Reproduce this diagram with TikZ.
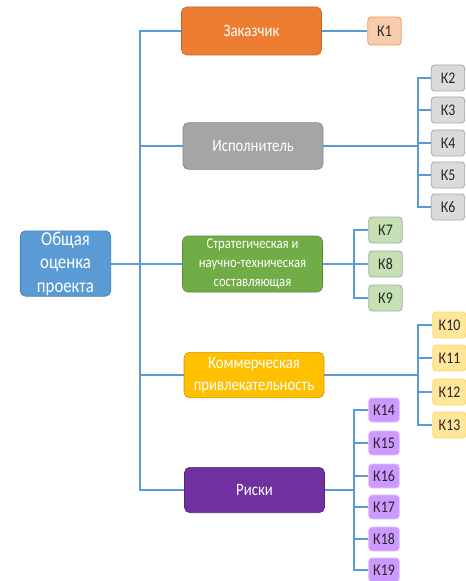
\documentclass[tikz,border=0pt]{standalone}
\usepackage{fontspec}
\setmainfont{Carlito}[FakeStretch=0.85]
\usepackage{tikz}

\definecolor{linkblue}{HTML}{5B9BD5}
\definecolor{rootblue}{HTML}{5B9BD5}
\definecolor{custorange}{HTML}{ED7D31}
\definecolor{contrgray}{HTML}{A5A5A5}
\definecolor{stratgreen}{HTML}{70AD47}
\definecolor{commyellow}{HTML}{FFC000}
\definecolor{risksviolet}{HTML}{7030A0}
\definecolor{kpeach}{HTML}{F8CBAD}
\definecolor{kgray}{HTML}{DBDBDB}
\definecolor{kgreen}{HTML}{C5E0B4}
\definecolor{kyellow}{HTML}{FFE699}
\definecolor{kviolet}{HTML}{CC99FF}

\tikzset{
  link/.style={draw=linkblue, line width=1.5pt},
  topic/.style={
    rectangle,
    rounded corners=4pt,
    draw=#1!80!black, line width=0.5pt,
    fill=#1,
    text=white,
    minimum width=105pt,
    minimum height=35pt,
    inner sep=0pt,
    align=center,
    font=\fontsize{13}{16.5}\selectfont},
  kbox/.style 2 args={
    rectangle,
    rounded corners=2.5pt,
    fill=#1,
    draw=#2, line width=0.6pt,
    text=black!85,
    minimum width=25pt,
    minimum height=19.5pt,
    inner sep=0pt,
    font=\fontsize{12.2}{12}\selectfont},
}

\begin{document}
\begin{tikzpicture}[x=0.75pt, y=-0.75pt]
  \useasboundingbox (0,0) rectangle (466,581);

  % main blocks
  \node[topic=rootblue, minimum width=68pt, minimum height=49pt,
        font=\fontsize{14.8}{17.6}\selectfont] (Root) at (65.5,263.5) {Общая\\оценка\\проекта};
  \node[topic=custorange, minimum height=36pt] (Customer)   at (251.5,31)  {Заказчик};
  \node[topic=contrgray]                       (Contractor) at (253,146)   {Исполнитель};
  \node[topic=stratgreen, minimum height=42pt,
        font=\fontsize{11.2}{14}\selectfont]   (Strategy)   at (252.5,264) {Стратегическая и\\научно-техническая\\составляющая};
  \node[topic=commyellow, minimum height=34pt] (Commerce)   at (254,375)   {Коммерческая\\привлекательность};
  \node[topic=risksviolet, minimum height=34pt] (Risks)     at (254.5,490) {Риски};

  % criteria
  \node[kbox={kpeach}{custorange!80!white}, minimum height=21pt] (K1) at (384.5,31) {К1};
  \node[kbox={kgray}{black!35}]  (K2)  at (448,78)  {К2};
  \node[kbox={kgray}{black!35}]  (K3)  at (448,110) {К3};
  \node[kbox={kgray}{black!35}]  (K4)  at (448,143) {К4};
  \node[kbox={kgray}{black!35}]  (K5)  at (448,175) {К5};
  \node[kbox={kgray}{black!35}]  (K6)  at (448,207) {К6};
  \node[kbox={kgreen}{black!35}] (K7)  at (385.5,230) {К7};
  \node[kbox={kgreen}{black!35}] (K8)  at (385.5,264) {К8};
  \node[kbox={kgreen}{black!35}] (K9)  at (385.5,298) {К9};
  \node[kbox={kyellow}{commyellow!60}] (K10) at (449.5,325) {К10};
  \node[kbox={kyellow}{commyellow!60}] (K11) at (449.5,358) {К11};
  \node[kbox={kyellow}{commyellow!60}] (K12) at (449.5,392) {К12};
  \node[kbox={kyellow}{commyellow!60}] (K13) at (449.5,425) {К13};
  \node[kbox={kviolet}{kviolet!60}, minimum width=23pt, minimum height=18pt] (K14) at (384,410) {К14};
  \node[kbox={kviolet}{kviolet!60}, minimum width=23pt, minimum height=18pt] (K15) at (384,443) {К15};
  \node[kbox={kviolet}{kviolet!60}, minimum width=23pt, minimum height=18pt] (K16) at (384,476) {К16};
  \node[kbox={kviolet}{kviolet!60}, minimum width=23pt, minimum height=18pt] (K17) at (384,507) {К17};
  \node[kbox={kviolet}{kviolet!60}, minimum width=23pt, minimum height=18pt] (K18) at (384,539) {К18};
  \node[kbox={kviolet}{kviolet!60}, minimum width=23pt, minimum height=18pt] (K19) at (384,570) {К19};

  % trunk
  \coordinate (TrunkTop) at (140,31);
  \coordinate (BusContr) at (418,0);
  \coordinate (BusStrat) at (354,0);
  \coordinate (BusComm)  at (418,0);
  \coordinate (BusRisks) at (354,0);

  \draw[link] (Customer.west) -- (TrunkTop) |- (Risks.west);
  \draw[link] (Root.east) -- (Root.east -| TrunkTop);
  \draw[link] (Contractor.west -| TrunkTop) -- (Contractor.west);
  \draw[link] (Strategy.west -| TrunkTop) -- (Strategy.west);
  \draw[link] (Commerce.west -| TrunkTop) -- (Commerce.west);

  % branches
  \draw[link] (Customer.east) -- (K1.west);

  \draw[link] (Contractor.east) -- (Contractor.east -| BusContr);
  \draw[link] (K2.west) -- (K2.west -| BusContr) -- (K6.west -| BusContr) -- (K6.west);
  \foreach \k in {3,4,5}
    \draw[link] (K\k.west -| BusContr) -- (K\k.west);

  \draw[link] (Strategy.east) -- (Strategy.east -| BusStrat);
  \draw[link] (K7.west) -- (K7.west -| BusStrat) -- (K9.west -| BusStrat) -- (K9.west);
  \draw[link] (K8.west -| BusStrat) -- (K8.west);

  \draw[link] (Commerce.east) -- (Commerce.east -| BusComm);
  \draw[link] (K10.west) -- (K10.west -| BusComm) -- (K13.west -| BusComm) -- (K13.west);
  \foreach \k in {11,12}
    \draw[link] (K\k.west -| BusComm) -- (K\k.west);

  \draw[link] (Risks.east) -- (Risks.east -| BusRisks);
  \draw[link] (K14.west) -- (K14.west -| BusRisks) -- (K19.west -| BusRisks) -- (K19.west);
  \foreach \k in {15,...,18}
    \draw[link] (K\k.west -| BusRisks) -- (K\k.west);
\end{tikzpicture}
\end{document}
